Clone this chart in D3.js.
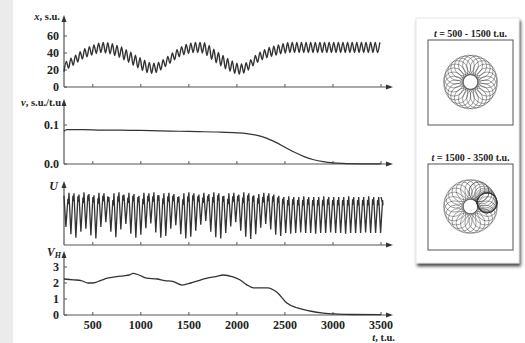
<!DOCTYPE html>
<html><head><meta charset="utf-8">
<script src="https://cdn.jsdelivr.net/npm/d3@7"></script>
<style>
body{margin:0;background:#fff;}
svg text{font-family:"Liberation Serif","Times New Roman",serif;font-weight:bold;fill:#222;}
</style>
</head><body>
<svg id="c" width="525" height="343"></svg>
<script>
// ---------------- data ----------------
const tTicks = [500, 1000, 1500, 2000, 2500, 3000, 3500];
const xTicks = [0, 20, 40, 60];
const vTicks = [0.0, 0.1];
const vhTicks = [0, 1, 2, 3];

// x(t): upper and lower extremes of each fast oscillation cycle (s.u.)
const xTop = [30,34,37.5,41.5,45,47.5,49.5,51.5,52.5,52,51,49,47,44,41,37.5,34.5,31.5,29,28,
  29,32,36,40,44,47.5,50,51.5,52.5,52.5,52,49,44.5,40.5,37,33.5,30.5,28,27,28.5,
  32,37,41,44,46.5,48,49.5,51,52,52.5,52.5,52.5,52.5,52.5,52.5,52.5,52.5,52.5,52.5,52.5,
  52.5,52.5,52.5,52.5,52.5,52.5,52.5,52.5,52.5];
const xBot = [18,22,25.5,29.5,33,35.5,37.5,39.5,40.5,40,39,37,35,32,29,25.5,22.5,19.5,17,16,
  17,20,24,28,32,35.5,38,39.5,40.5,40.5,40,37,32.5,28.5,25,21.5,18.5,16,15,16.5,
  20,25,29,32,34.5,36,37.5,39,40,40.5,40.5,40.5,40.5,40.5,40.5,40.5,40.5,40.5,40.5,40.5,
  40.5,40.5,40.5,40.5,40.5,40.5,40.5,40.5,40.5];

// v(t)
const vT = [200,230,400,600,800,1000,1200,1400,1600,1800,2000,2100,2200,2300,2400,2500,2600,2700,2800,2900,3000,3100,3300,3500];
const vV = [0.084,0.088,0.088,0.087,0.087,0.086,0.085,0.084,0.083,0.082,0.080,0.078,0.074,0.067,0.056,0.043,0.030,0.019,0.011,0.006,0.003,0.0015,0.0005,0.0003];

// U(t): peak and trough of each cycle (arbitrary units)
const uPeak = [0.82,0.87,0.86,0.84,0.88,0.85,0.83,0.87,0.86,0.80,0.86,0.88,0.84,0.87,0.85,0.82,0.87,0.86,0.88,0.83,
  0.86,0.87,0.85,0.81,0.86,0.88,0.86,0.84,0.87,0.85,0.88,0.86,0.82,0.86,0.87,0.84,0.88,0.86,0.83,0.85,
  0.87,0.86,0.84,0.82,0.80,0.81,0.80,0.80,0.81,0.80,0.80,0.80,0.81,0.80,0.80,0.80,0.80,0.81,0.80,0.80,
  0.80,0.81,0.80,0.80];
const uTrough = [0.30,0.18,0.12,0.22,0.27,0.16,0.11,0.30,0.38,0.22,0.13,0.26,0.35,0.19,0.12,0.17,0.28,0.36,0.21,0.12,
  0.15,0.27,0.33,0.18,0.11,0.14,0.24,0.34,0.40,0.22,0.13,0.11,0.20,0.31,0.38,0.24,0.14,0.10,0.18,0.29,
  0.35,0.26,0.17,0.15,0.20,0.19,0.20,0.21,0.20,0.20,0.19,0.20,0.20,0.21,0.20,0.20,0.19,0.20,0.20,0.20,
  0.21,0.20,0.20,0.20];

// V_H(t)
const vhT = [200,300,380,450,500,580,650,750,820,880,920,980,1060,1170,1250,1330,1430,1520,1600,1690,
  1780,1860,1950,2030,2100,2170,2320,2420,2520,2630,2760,2900,3050,3200,3500];
const vhV = [2.25,2.2,2.15,2.0,2.0,2.15,2.3,2.4,2.45,2.5,2.6,2.5,2.3,2.25,2.15,2.1,1.87,2.0,2.15,2.3,
  2.4,2.5,2.4,2.2,1.9,1.7,1.7,1.4,0.75,0.44,0.25,0.12,0.06,0.03,0.02];

// phase-plane loops: angular position (deg) of each loop's centre on the ring
const ring1Angles = [0,14,28,42,55,69,83,97,111,125,138,152,166,180,194,208,222,235,249,263,277,291,305,318,332,346];
const ring2Angles = [0,15,30,45,60,75,90,105,120,135,150,165,180,195,210,225,240,255,270,285,300,
  -60,-48,-38,-30,-24,-19,-16,-14,-13,-12.5,-12.2,-12,-12,-12];
const titles = [["t", " = 500 - 1500 t.u."], ["t", " = 1500 - 3500 t.u."]];

// ---------------- drawing ----------------
const svg = d3.select("#c");
const defs = svg.append("defs");
const f = defs.append("filter").attr("id","sh").attr("x","-10%").attr("y","-10%").attr("width","130%").attr("height","130%");
f.append("feDropShadow").attr("dx",1.5).attr("dy",3).attr("stdDeviation",1.8).attr("flood-color","#222").attr("flood-opacity",0.8);

svg.append("rect").attr("x",0).attr("y",0).attr("width",13).attr("height",343).attr("fill","#ebebeb");

const tScale = d3.scaleLinear().domain([200, 3500]).range([64, 381]);
const X0 = 64, XEND = 393;
const axisCol = "#555";
const lineCol = "#333";

const panels = [
  {y: d3.scaleLinear().domain([0,60]).range([87,36]), top: 15, ticks: xTicks, fmt: d => d},
  {y: d3.scaleLinear().domain([0,0.1]).range([164,125]), top: 99, ticks: vTicks, fmt: d3.format(".1f")},
  {y: d3.scaleLinear().domain([0,1]).range([245,185]), top: 181, ticks: [], fmt: d => d},
  {y: d3.scaleLinear().domain([0,3]).range([315,267]), top: 251, ticks: vhTicks, fmt: d => d}
];

panels.forEach((p, i) => {
  const g = svg.append("g");
  const base = p.y.range()[0];
  g.append("line").attr("x1",X0).attr("x2",X0).attr("y1",base).attr("y2",p.top+5)
    .attr("stroke",axisCol).attr("stroke-width",1.2);
  g.append("path").attr("d",`M${X0},${p.top}L${X0-2.5},${p.top+7}L${X0+2.5},${p.top+7}Z`).attr("fill","#333");
  g.append("line").attr("x1",X0).attr("x2",XEND-5).attr("y1",base).attr("y2",base)
    .attr("stroke",axisCol).attr("stroke-width",1.2);
  g.append("path").attr("d",`M${XEND},${base}L${XEND-7},${base-2.5}L${XEND-7},${base+2.5}Z`).attr("fill","#333");
  g.selectAll(".xt").data(tTicks).join("line")
    .attr("x1",d=>tScale(d)).attr("x2",d=>tScale(d)).attr("y1",base).attr("y2",base-3)
    .attr("stroke",axisCol).attr("stroke-width",1);
  g.selectAll(".yt").data(p.ticks).join("line")
    .attr("x1",X0).attr("x2",X0+3).attr("y1",d=>p.y(d)).attr("y2",d=>p.y(d))
    .attr("stroke",axisCol).attr("stroke-width",1);
  g.selectAll(".yl").data(p.ticks).join("text")
    .attr("x",59).attr("y",d=>p.y(d)).attr("dy","0.35em").attr("text-anchor","end")
    .attr("font-size",12).text(p.fmt);
  if (i === 3) {
    g.selectAll(".xl").data(tTicks).join("text")
      .attr("x",d=>tScale(d)).attr("y",329).attr("text-anchor","middle")
      .attr("font-size",12).text(d=>d);
  }
});

function label(x, y, parts, size, anchor) {
  const t = svg.append("text").attr("x",x).attr("y",y).attr("font-size",size).attr("text-anchor",anchor||"end");
  parts.forEach(pt => {
    const s = t.append("tspan").text(pt.t);
    if (pt.i) s.attr("font-style","italic");
    if (pt.sub) s.attr("font-size",size*0.7).attr("dy",1.5);
  });
  return t;
}
label(60, 20, [{t:"x",i:1},{t:", s.u."}], 10.5);
label(61, 106, [{t:"v",i:1},{t:", s.u./t.u"}], 10.5);
label(58, 190, [{t:"U",i:1}], 12);
label(61, 256, [{t:"V",i:1},{t:"H",i:1,sub:1}], 11.5);
label(395, 341, [{t:"t",i:1},{t:", t.u."}], 10.5);

// x series
const xPts = [];
xTop.forEach((v, k) => {
  xPts.push([200 + 48*k, xBot[k]]);
  xPts.push([200 + 48*k + 24, v]);
});
const p0 = panels[0];
svg.append("path").datum(xPts)
  .attr("d", d3.line().x(d=>tScale(d[0])).y(d=>p0.y(d[1])).curve(d3.curveMonotoneX))
  .attr("fill","none").attr("stroke",lineCol).attr("stroke-width",1.4);

// v series
const p1 = panels[1];
svg.append("path").datum(vT.map((t,k)=>[t,vV[k]]))
  .attr("d", d3.line().x(d=>tScale(d[0])).y(d=>p1.y(d[1])).curve(d3.curveMonotoneX))
  .attr("fill","none").attr("stroke",lineCol).attr("stroke-width",1.2);

// U series
const p2 = panels[2];
const P = 52;
const uPts = [];
uPeak.forEach((pk, k) => {
  const t0 = 200 + P*k;
  uPts.push([t0, pk]);
  uPts.push([t0 + 0.38*P, uTrough[k]]);
  uPts.push([t0 + 0.78*P, pk - 0.05]);
  uPts.push([t0 + 0.86*P, pk - 0.14]);
});
uPts.push([3500, 0.8]);
svg.append("path").datum(uPts)
  .attr("d", d3.line().x(d=>tScale(d[0])).y(d=>p2.y(d[1])))
  .attr("fill","none").attr("stroke",lineCol).attr("stroke-width",1.3);

// V_H series
const p3 = panels[3];
svg.append("path").datum(vhT.map((t,k)=>[t,vhV[k]]))
  .attr("d", d3.line().x(d=>tScale(d[0])).y(d=>p3.y(d[1])).curve(d3.curveMonotoneX))
  .attr("fill","none").attr("stroke",lineCol).attr("stroke-width",1.3);

// ---------------- right card ----------------
svg.append("rect").attr("x",416).attr("y",18).attr("width",103).attr("height",245)
  .attr("fill","#fff").attr("stroke","#e2e2e2").attr("stroke-width",0.8).attr("filter","url(#sh)");

const boxes = [{x:428, y:40, s:85, ang: ring1Angles, ty: 36.5}, {x:428, y:164, s:86, ang: ring2Angles, ty: 160.5}];
const ringR = d3.scaleLinear().domain([0,1]).range([0,17]);
boxes.forEach((b, i) => {
  svg.append("rect").attr("x",b.x).attr("y",b.y).attr("width",85).attr("height",b.s)
    .attr("fill","none").attr("stroke","#555").attr("stroke-width",1);
  const tt = svg.append("text").attr("x",470.5).attr("y",b.ty).attr("text-anchor","middle").attr("font-size",10);
  tt.append("tspan").attr("font-style","italic").text(titles[i][0]);
  tt.append("tspan").text(titles[i][1]);
  const cx = b.x + 42.5, cy = b.y + b.s/2 - 0.5;
  svg.append("g").selectAll("circle").data(b.ang).join("circle")
    .attr("cx", a => cx + ringR(1)*Math.cos(a*Math.PI/180))
    .attr("cy", a => cy + ringR(1)*Math.sin(a*Math.PI/180))
    .attr("r", 10)
    .attr("fill","none").attr("stroke","#333").attr("stroke-width",0.55).attr("stroke-opacity",0.85);
});
</script>
</body></html>
